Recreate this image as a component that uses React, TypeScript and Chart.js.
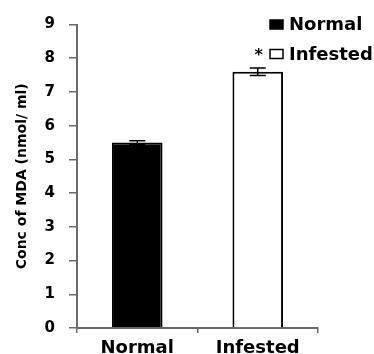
import React, { useEffect, useRef } from "react";
import { Chart, registerables } from "chart.js";

Chart.register(...registerables);

const categories = ["Normal", "Infested"];
const values = [5.5, 7.6];
const errors = [0.05, 0.11];
const significance = ["", "*"];
const fillColors = ["#000000", "#ffffff"];
const yMin = 0;
const yMax = 9;
const yStep = 1;
const yTitle = "Conc of MDA (nmol/ ml)";

const FONT = "'DejaVu Sans', sans-serif";
const AXIS_COLOR = "#6a6a6a";

const errorBarPlugin = {
  id: "errorBars",
  afterDatasetsDraw(chart: any) {
    const ctx = chart.ctx;
    const meta = chart.getDatasetMeta(0);
    const y = chart.scales.y;
    ctx.save();
    ctx.strokeStyle = "#000";
    ctx.lineWidth = 1.5;
    meta.data.forEach((bar: any, i: number) => {
      const x = bar.x;
      const top = y.getPixelForValue(values[i] + errors[i]);
      const bot = y.getPixelForValue(values[i] - errors[i]);
      const cap = 8;
      ctx.beginPath();
      ctx.moveTo(x, top);
      ctx.lineTo(x, bot);
      ctx.moveTo(x - cap, top);
      ctx.lineTo(x + cap, top);
      ctx.moveTo(x - cap, bot);
      ctx.lineTo(x + cap, bot);
      ctx.stroke();
      if (significance[i]) {
        ctx.fillStyle = "#000";
        ctx.font = `bold 16px ${FONT}`;
        ctx.textAlign = "center";
        ctx.textBaseline = "alphabetic";
        ctx.fillText(significance[i], x + 1, top - 8);
      }
    });
    ctx.restore();
  },
};

const legendPlugin = {
  id: "customLegend",
  afterDraw(chart: any) {
    const ctx = chart.ctx;
    const area = chart.chartArea;
    const boxX = area.right - 48;
    ctx.save();
    ctx.font = `bold 18px ${FONT}`;
    ctx.textAlign = "left";
    ctx.textBaseline = "middle";
    categories.forEach((label, i) => {
      const cy = area.top + i * 29.5;
      ctx.fillStyle = fillColors[i];
      ctx.fillRect(boxX, cy - 4.5, 13, 9);
      ctx.strokeStyle = "#000";
      ctx.lineWidth = 1.5;
      ctx.strokeRect(boxX, cy - 4.5, 13, 9);
      ctx.fillStyle = "#000";
      ctx.fillText(label, boxX + 19, cy + 1);
    });
    ctx.restore();
  },
};

export default function App() {
  const canvasRef = useRef<HTMLCanvasElement | null>(null);

  useEffect(() => {
    if (!canvasRef.current) return;
    const chart = new Chart(canvasRef.current, {
      type: "bar",
      data: {
        labels: categories,
        datasets: [
          {
            data: values,
            backgroundColor: fillColors,
            borderColor: "#000",
            borderWidth: 2,
            categoryPercentage: 1,
            barPercentage: 0.42,
          },
        ],
      },
      options: {
        responsive: false,
        animation: false,
        devicePixelRatio: 1,
        layout: { padding: { top: 24.5, right: 56, left: 0, bottom: 0 } },
        plugins: {
          legend: { display: false },
          tooltip: { enabled: false },
        },
        scales: {
          x: {
            afterFit: (s: any) => {
              s.height = 32;
            },
            grid: {
              drawOnChartArea: false,
              drawTicks: true,
              tickLength: 5,
              color: AXIS_COLOR,
              lineWidth: 1.5,
              offset: true,
            },
            border: { color: AXIS_COLOR, width: 2 },
            ticks: {
              color: "#000",
              padding: 5,
              font: { family: FONT, size: 18, weight: "bold" },
            },
          },
          y: {
            min: yMin,
            max: yMax,
            afterFit: (s: any) => {
              s.width = 77;
            },
            grid: {
              drawOnChartArea: false,
              drawTicks: true,
              tickLength: 8,
              color: AXIS_COLOR,
              lineWidth: 1.5,
            },
            border: { color: AXIS_COLOR, width: 2 },
            ticks: {
              stepSize: yStep,
              color: "#000",
              padding: 14,
              font: { family: FONT, size: 15, weight: "bold" },
            },
            title: {
              display: true,
              text: yTitle,
              color: "#000",
              padding: { top: 14, bottom: 0 },
              font: { family: FONT, size: 14, weight: "bold" },
            },
          },
        },
      },
      plugins: [errorBarPlugin, legendPlugin],
    });
    return () => chart.destroy();
  }, []);

  return (
    <div
      style={{
        position: "fixed",
        left: 0,
        top: 0,
        width: 374,
        height: 360,
        background: "#fff",
      }}
    >
      <canvas
        ref={canvasRef}
        width={374}
        height={360}
        style={{ display: "block", width: 374, height: 360 }}
      />
    </div>
  );
}
